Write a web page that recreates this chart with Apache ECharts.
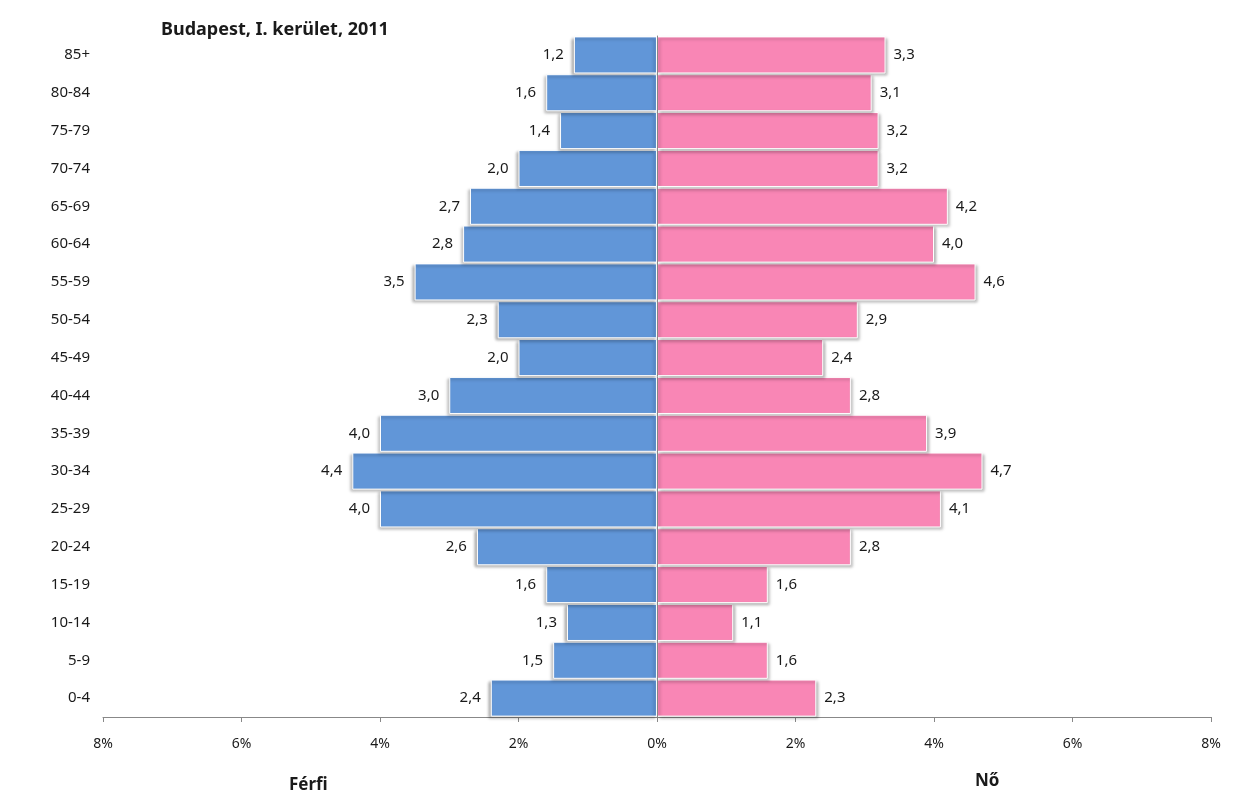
<!DOCTYPE html>
<html>
<head>
<meta charset="utf-8">
<script src="https://cdn.jsdelivr.net/npm/echarts@6/dist/echarts.min.js"></script>
<style>
  html, body { margin: 0; padding: 0; background: #fff; }
  #chart { width: 1244px; height: 799px; }
</style>
</head>
<body>
<div id="chart"></div>
<script>
// age groups, bottom to top
const ageGroups = ['0-4', '5-9', '10-14', '15-19', '20-24', '25-29', '30-34', '35-39', '40-44',
  '45-49', '50-54', '55-59', '60-64', '65-69', '70-74', '75-79', '80-84', '85+'];
const male = [2.4, 1.5, 1.3, 1.6, 2.6, 4.0, 4.4, 4.0, 3.0, 2.0, 2.3, 3.5, 2.8, 2.7, 2.0, 1.4, 1.6, 1.2];
const female = [2.3, 1.6, 1.1, 1.6, 2.8, 4.1, 4.7, 3.9, 2.8, 2.4, 2.9, 4.6, 4.0, 4.2, 3.2, 3.2, 3.1, 3.3];
const axisTicks = [0, 2, 4, 6, 8];

const font = '"Noto Sans", "Open Sans", sans-serif';
const axisGray = '#888888';
const txt = '#1a1a1a';

const chart = echarts.init(document.getElementById('chart'));

function fmt(p) {
  return p.value.toFixed(1).replace('.', ',');
}

function xAx(idx, inverse) {
  return {
    type: 'value', gridIndex: idx, inverse: inverse,
    min: axisTicks[0], max: axisTicks[axisTicks.length - 1], interval: 2,
    axisLine: { show: true, lineStyle: { color: axisGray, width: 1 } },
    axisTick: { show: true, length: 5, lineStyle: { color: axisGray } },
    splitLine: { show: false },
    axisLabel: {
      margin: 20, fontSize: 14, color: txt, fontFamily: font,
      formatter: function (v) { return (idx === 1 && v === 0) ? '' : v + '%'; }
    }
  };
}

const option = {
  animation: false,
  textStyle: { fontFamily: font },
  title: {
    text: 'Budapest, I. kerület, 2011',
    left: 156, top: 16,
    textStyle: { fontSize: 18, fontWeight: 'bold', color: txt, fontFamily: font }
  },
  grid: [
    { left: 103, width: 554, top: 36, height: 681 },
    { left: 657, width: 554, top: 36, height: 681 }
  ],
  xAxis: [xAx(0, true), xAx(1, false)],
  yAxis: [
    {
      type: 'category', gridIndex: 0, data: ageGroups, position: 'left',
      axisLine: { show: false }, axisTick: { show: false },
      axisLabel: { margin: 13, fontSize: 15, color: txt, fontFamily: font }
    },
    {
      type: 'category', gridIndex: 1, data: ageGroups, position: 'left', z: 5,
      axisLine: { show: true, lineStyle: { color: axisGray, width: 1 } },
      axisTick: { show: false }, axisLabel: { show: false }
    }
  ],
  series: [
    {
      name: 'Férfi', type: 'bar', xAxisIndex: 0, yAxisIndex: 0, data: male,
      barCategoryGap: '2%',
      itemStyle: {
        color: '#6196d8', borderColor: '#ffffff', borderWidth: 1,
        shadowBlur: 3, shadowColor: 'rgba(0,0,0,0.3)', shadowOffsetX: -2, shadowOffsetY: 2
      },
      label: { show: true, position: 'left', distance: 10, fontSize: 15, color: txt, fontFamily: font, formatter: fmt }
    },
    {
      name: 'Nő', type: 'bar', xAxisIndex: 1, yAxisIndex: 1, data: female,
      barCategoryGap: '2%',
      itemStyle: {
        color: '#f986b5', borderColor: '#ffffff', borderWidth: 1,
        shadowBlur: 3, shadowColor: 'rgba(0,0,0,0.3)', shadowOffsetX: 2, shadowOffsetY: 2
      },
      label: { show: true, position: 'right', distance: 8, fontSize: 15, color: txt, fontFamily: font, formatter: fmt }
    }
  ],
  graphic: [
    { type: 'text', left: 289, top: 777, style: { text: 'Férfi', fontSize: 17, fontWeight: 'bold', fill: txt, fontFamily: font } },
    { type: 'text', left: 975, top: 773, style: { text: 'Nő', fontSize: 17, fontWeight: 'bold', fill: txt, fontFamily: font } }
  ]
};

chart.setOption(option);
</script>
</body>
</html>
